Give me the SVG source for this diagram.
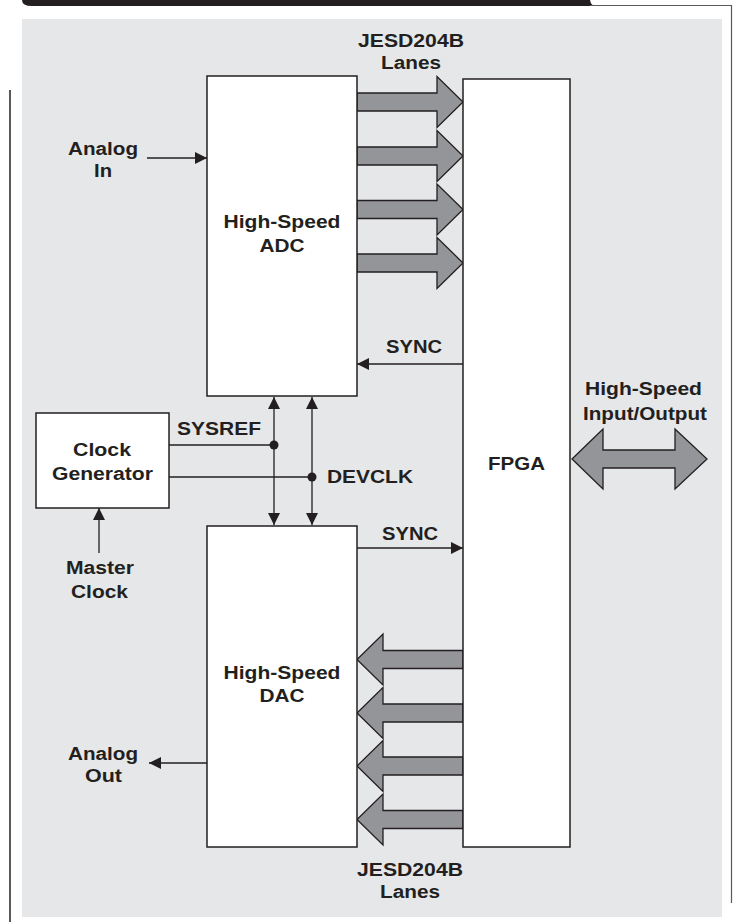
<svg xmlns="http://www.w3.org/2000/svg" width="733" height="922" viewBox="0 0 733 922">
<defs>
<style>
.box{fill:#ffffff;stroke:#231f20;stroke-width:1.5}
.ln{fill:none;stroke:#231f20;stroke-width:1.3}
.lane{fill:#939598;stroke:#231f20;stroke-width:1.3;stroke-linejoin:miter}
.t{font-family:"Liberation Sans",Arial,Helvetica,sans-serif;font-weight:bold;font-size:18px;fill:#231f20;text-anchor:middle}
</style>
<marker id="ah" markerWidth="12" markerHeight="12" refX="12" refY="6" orient="auto-start-reverse" markerUnits="userSpaceOnUse">
<path d="M0,0 L12,6 L0,12 z" fill="#231f20"/>
</marker>
</defs>

<g id="frame">
<path d="M22,0 H590 Q591,6 596,6 H32 Q22,6 22,0 z" fill="#231f20"/>
<path d="M590,5.5 H731.5 V903" fill="none" stroke="#58595b" stroke-width="1.2"/>
<line x1="10" y1="90" x2="10" y2="922" stroke="#58595b" stroke-width="2"/>
<rect x="22" y="19" width="700" height="898" fill="#e6e7e8"/>
</g>

<g id="connectors">
<line class="ln" x1="147" y1="158" x2="207" y2="158" marker-end="url(#ah)"/>
<line class="ln" x1="207" y1="763" x2="149" y2="763" marker-end="url(#ah)"/>
<line class="ln" x1="99" y1="553" x2="99" y2="508" marker-end="url(#ah)"/>
<line class="ln" x1="463" y1="364" x2="357" y2="364" marker-end="url(#ah)"/>
<line class="ln" x1="357" y1="548" x2="463" y2="548" marker-end="url(#ah)"/>
<line class="ln" x1="169" y1="445" x2="274" y2="445"/>
<line class="ln" x1="169" y1="477" x2="312" y2="477"/>
<line class="ln" x1="274" y1="397" x2="274" y2="525" marker-start="url(#ah)" marker-end="url(#ah)"/>
<line class="ln" x1="312" y1="397" x2="312" y2="525" marker-start="url(#ah)" marker-end="url(#ah)"/>
<circle cx="274" cy="445" r="4.5" fill="#231f20"/>
<circle cx="312" cy="477" r="4.5" fill="#231f20"/>
<g id="adc-lanes">
<polygon class="lane" points="357,93 437,93 437,76.5 463,102 437,127.5 437,111 357,111"/>
<polygon class="lane" points="357,147 437,147 437,130.5 463,156 437,181.5 437,165 357,165"/>
<polygon class="lane" points="357,200.5 437,200.5 437,184 463,209.5 437,235 437,218.5 357,218.5"/>
<polygon class="lane" points="357,254 437,254 437,237.5 463,263 437,288.5 437,272 357,272"/>
</g>
<g id="dac-lanes">
<polygon class="lane" points="463,650.5 383,650.5 383,634 357,659.5 383,685 383,668.5 463,668.5"/>
<polygon class="lane" points="463,704 383,704 383,687.5 357,713 383,738.5 383,722 463,722"/>
<polygon class="lane" points="463,757 383,757 383,740.5 357,766 383,791.5 383,775 463,775"/>
<polygon class="lane" points="463,810.5 383,810.5 383,794 357,819.5 383,845 383,828.5 463,828.5"/>
</g>
<polygon id="hsio-arrow" class="lane" points="572,459 603,429 603,450 675,450 675,429 707,459 675,489 675,468 603,468 603,489"/>
</g>

<g id="adc">
<rect class="box" x="207" y="76" width="150" height="320"/>
<text class="t" x="282" y="228" textLength="117" lengthAdjust="spacingAndGlyphs">High-Speed</text>
<text class="t" x="282" y="252" textLength="45" lengthAdjust="spacingAndGlyphs">ADC</text>
</g>

<g id="dac">
<rect class="box" x="207" y="526" width="150" height="321"/>
<text class="t" x="282" y="679" textLength="117" lengthAdjust="spacingAndGlyphs">High-Speed</text>
<text class="t" x="282" y="702" textLength="45" lengthAdjust="spacingAndGlyphs">DAC</text>
</g>

<g id="fpga">
<rect class="box" x="463" y="79" width="107" height="768"/>
<text class="t" x="516.5" y="470" textLength="57" lengthAdjust="spacingAndGlyphs">FPGA</text>
</g>

<g id="clock-generator">
<rect class="box" x="36" y="413" width="133" height="95"/>
<text class="t" x="102" y="456" textLength="58" lengthAdjust="spacingAndGlyphs">Clock</text>
<text class="t" x="102.5" y="480" textLength="101" lengthAdjust="spacingAndGlyphs">Generator</text>
</g>

<g id="labels">
<text class="t" x="411" y="47" textLength="106" lengthAdjust="spacingAndGlyphs">JESD204B</text>
<text class="t" x="411" y="69" textLength="60" lengthAdjust="spacingAndGlyphs">Lanes</text>
<text class="t" x="103" y="155" textLength="70" lengthAdjust="spacingAndGlyphs">Analog</text>
<text class="t" x="103" y="177" textLength="18" lengthAdjust="spacingAndGlyphs">In</text>
<text class="t" x="414" y="353" textLength="56" lengthAdjust="spacingAndGlyphs">SYNC</text>
<text class="t" x="643.5" y="395" textLength="117" lengthAdjust="spacingAndGlyphs">High-Speed</text>
<text class="t" x="645" y="420" textLength="124" lengthAdjust="spacingAndGlyphs">Input/Output</text>
<text class="t" x="219" y="435" textLength="84" lengthAdjust="spacingAndGlyphs">SYSREF</text>
<text class="t" x="370" y="483" textLength="86" lengthAdjust="spacingAndGlyphs">DEVCLK</text>
<text class="t" x="410" y="540" textLength="56" lengthAdjust="spacingAndGlyphs">SYNC</text>
<text class="t" x="100" y="574" textLength="68" lengthAdjust="spacingAndGlyphs">Master</text>
<text class="t" x="99.5" y="598" textLength="57" lengthAdjust="spacingAndGlyphs">Clock</text>
<text class="t" x="103" y="760" textLength="70" lengthAdjust="spacingAndGlyphs">Analog</text>
<text class="t" x="103.5" y="782" textLength="37" lengthAdjust="spacingAndGlyphs">Out</text>
<text class="t" x="410" y="876" textLength="106" lengthAdjust="spacingAndGlyphs">JESD204B</text>
<text class="t" x="410" y="898" textLength="60" lengthAdjust="spacingAndGlyphs">Lanes</text>
</g>
</svg>
